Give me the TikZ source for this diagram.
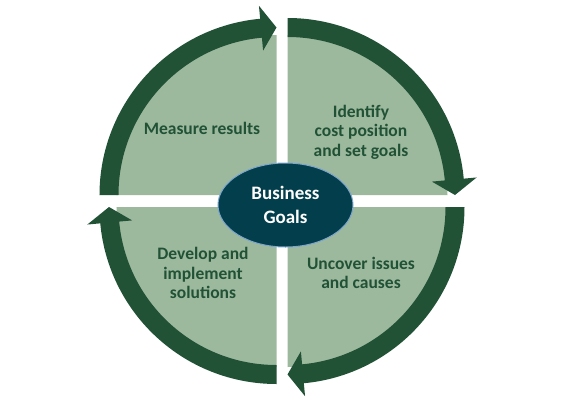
\documentclass[tikz,border=0pt]{standalone}
\usepackage{fontspec}
\setmainfont{Carlito}
\definecolor{bandgreen}{RGB}{33,82,54}
\definecolor{palegreen}{RGB}{157,185,157}
\definecolor{hubteal}{RGB}{2,62,75}
\definecolor{hubrim}{RGB}{125,165,205}
\tikzset{
  band/.style={fill=bandgreen},
  disc/.style={fill=palegreen},
  steptext/.style={align=center, text=bandgreen, font=\bfseries\fontsize{17.5}{19.5}\selectfont},
  hub/.style={ellipse, draw=hubrim, line width=1pt, fill=hubteal, text=white, align=center,
    minimum width=135pt, minimum height=84pt, inner sep=0pt, font=\bfseries\fontsize{19}{24}\selectfont}
}
\usetikzlibrary{shapes.geometric}
\begin{document}
\begin{tikzpicture}
    \useasboundingbox (-282pt,-204pt) rectangle (285pt,201pt);
    % top left
    \begin{scope}[shift={(-5.5pt,6pt)}]
      \fill[disc] (0,0) -- (180:160pt) arc[start angle=180, end angle=90, radius=160pt] -- cycle;
      \fill[band] (180:177pt) arc[start angle=180, end angle=95.3, radius=177pt] -- (95.3:190pt)
        -- (90:167.5pt) -- (95.3:145pt) -- (95.3:158pt) arc[start angle=95.3, end angle=180, radius=158pt] -- cycle;
    \end{scope}
    % top right
    \begin{scope}[shift={(5.5pt,6pt)}]
      \fill[disc] (0,0) -- (90:160pt) arc[start angle=90, end angle=0, radius=160pt] -- cycle;
      \fill[band] (90:177pt) arc[start angle=90, end angle=5.3, radius=177pt] -- (5.3:190pt)
        -- (0:167.5pt) -- (5.3:145pt) -- (5.3:158pt) arc[start angle=5.3, end angle=90, radius=158pt] -- cycle;
    \end{scope}
    % bottom right
    \begin{scope}[shift={(5.5pt,-6pt)}]
      \fill[disc] (0,0) -- (0:160pt) arc[start angle=0, end angle=-90, radius=160pt] -- cycle;
      \fill[band] (0:177pt) arc[start angle=0, end angle=-84.7, radius=177pt] -- (-84.7:190pt)
        -- (-90:167.5pt) -- (-84.7:145pt) -- (-84.7:158pt) arc[start angle=-84.7, end angle=0, radius=158pt] -- cycle;
    \end{scope}
    % bottom left
    \begin{scope}[shift={(-5.5pt,-6pt)}]
      \fill[disc] (0,0) -- (-90:160pt) arc[start angle=-90, end angle=-180, radius=160pt] -- cycle;
      \fill[band] (-90:177pt) arc[start angle=-90, end angle=-174.7, radius=177pt] -- (-174.7:190pt)
        -- (-180:167.5pt) -- (-174.7:145pt) -- (-174.7:158pt) arc[start angle=-174.7, end angle=-90, radius=158pt] -- cycle;
    \end{scope}
    \node[steptext] (measure) at (-80pt,73pt) {Measure results};
    \node[steptext] (identify) at (79pt,69pt) {Identify\\cost position\\and set goals};
    \node[steptext] (uncover) at (79pt,-72pt) {Uncover issues\\and causes};
    \node[steptext] (develop) at (-79pt,-72pt) {Develop and\\implement\\solutions};
    \node[hub] (goals) at (3.5pt,-4pt) {Business\\Goals};
\end{tikzpicture}
\end{document}
